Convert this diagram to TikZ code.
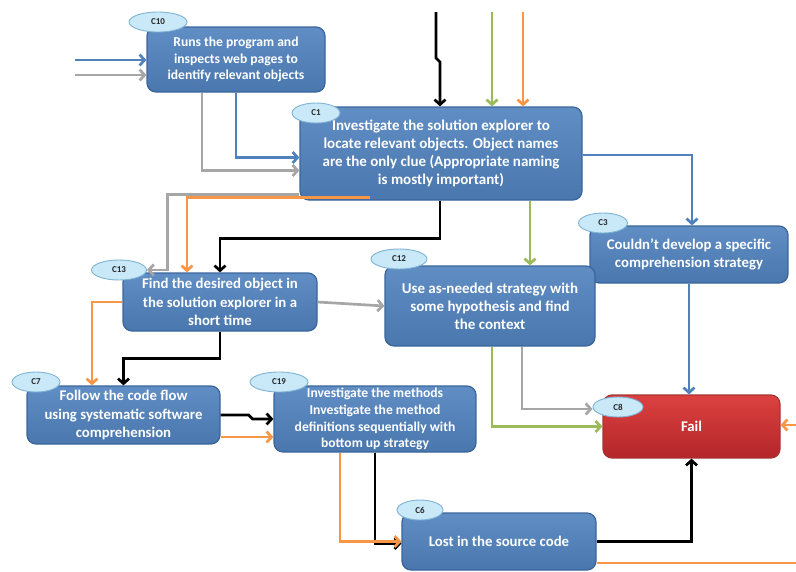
\documentclass[tikz,border=0pt]{standalone}
\usepackage{fontspec}
\setmainfont{Carlito}
\usetikzlibrary{arrows.meta,shapes.geometric}

\definecolor{boxblue}{HTML}{4F81BD}
\definecolor{boxedge}{HTML}{3A659B}
\definecolor{failtop}{HTML}{DC4140}
\definecolor{failbot}{HTML}{B3262A}
\definecolor{failedge}{HTML}{A83434}
\definecolor{tagfill}{HTML}{C9E8F8}
\definecolor{tagedge}{HTML}{7FB3D3}
\definecolor{lblue}{HTML}{4F81BD}
\definecolor{lgray}{HTML}{A6A6A6}
\definecolor{lorange}{HTML}{F79646}
\definecolor{lgreen}{HTML}{9BBB59}

\begin{document}
\begin{tikzpicture}[x=1pt,y=-1pt,
  box/.style={draw=boxedge,line width=1.2pt,top color=boxblue!90!white,bottom color=boxblue!92!black,
    rounded corners=9pt,text=white,align=center,inner sep=1pt},
  failbox/.style={box,draw=failedge,top color=failtop,bottom color=failbot},
  big/.style={font=\bfseries\fontsize{15}{18}\selectfont},
  mid/.style={font=\bfseries\fontsize{14.8}{18.3}\selectfont},
  small/.style={font=\bfseries\fontsize{13.6}{16.8}\selectfont},
  tag/.style={ellipse,draw=tagedge,line width=0.9pt,fill=tagfill,text=black!85,
    font=\bfseries\fontsize{9}{10}\selectfont,inner sep=0pt,minimum height=20pt},
  link/.style={line width=2.7pt,-{Straight Barb[length=5pt,width=11pt]}},
  bl/.style={link,lblue}, gl/.style={link,lgray}, ol/.style={link,lorange},
  grl/.style={link,lgreen}, kl/.style={link,black}]
\useasboundingbox (0,0) rectangle (796,571);

% boxes
\node[box,small,minimum width=178pt,minimum height=65pt] (c10) at (236,59.5)
  {Runs the program and\\inspects web pages to\\identify relevant objects};
\node[box,big,minimum width=282pt,minimum height=93pt] (c1) at (441,153.5)
  {Investigate the solution explorer to\\locate relevant objects. Object names\\are the only clue (Appropriate naming\\is mostly important)};
\node[box,mid,minimum width=198pt,minimum height=57pt] (c3) at (689,254.5)
  {Couldn't develop a specific\\comprehension strategy};
\node[box,mid,minimum width=194pt,minimum height=58pt] (c13) at (220,302)
  {Find the desired object in\\the solution explorer in a\\short time};
\node[box,big,minimum width=210pt,minimum height=80pt] (c12) at (490,306)
  {Use as-needed strategy with\\some hypothesis and find\\the context};
\node[box,mid,minimum width=193pt,minimum height=58pt] (c7) at (123.5,415)
  {Follow the code flow\\using systematic software\\comprehension};
\node[box,small,minimum width=202pt,minimum height=66pt] (c19) at (375,419)
  {Investigate the methods\\Investigate the method\\definitions sequentially with\\bottom up strategy};
\node[failbox,mid,minimum width=177pt,minimum height=63pt] (c8) at (691.5,426.5) {Fail};
\node[box,mid,minimum width=194pt,minimum height=57pt] (c6) at (499,541.5)
  {Lost in the source code};

% tags
\node[tag,minimum width=58pt] (t10) at (158,22) {C10};
\node[tag,minimum width=48pt] (t1) at (316,113) {C1};
\node[tag,minimum width=49pt] (t3) at (603,223) {C3};
\node[tag,minimum width=55pt] (t13) at (119,270) {C13};
\node[tag,minimum width=56pt] (t12) at (399,259) {C12};
\node[tag,minimum width=48pt] (t7) at (36,382) {C7};
\node[tag,minimum width=58pt] (t19) at (279,382) {C19};
\node[tag,minimum width=50pt] (t8) at (618,407) {C8};
\node[tag,minimum width=46pt] (t6) at (420,510) {C6};

% free ends
\coordinate (in1) at (75,60);
\coordinate (in2) at (75,75);
\coordinate (topk) at (436,12);
\coordinate (topg) at (492,12);
\coordinate (topo) at (523,12);
\coordinate (ro) at (796,425);
\coordinate (ro2) at (796,563);

% connectors
\draw[bl] (in1) -- (in1 -| c10.west);
\draw[gl] (in2) -- (in2 -| c10.west);
\draw[kl] (topk) -- ++(0,46) -- ++(4,4) coordinate (kb) -- (kb |- c1.north);
\draw[grl] (topg) -- (topg |- c1.north);
\draw[ol] (topo) -- (topo |- c1.north);
\draw[bl] (c10.south) |- ([yshift=-4pt]c1.west);
\draw[gl] ([xshift=-34pt]c10.south) |- ([yshift=-17pt]c1.west);
\draw[gl] ([yshift=-41pt]c1.west) -- ++(-132,0) |- (t13.east);
\draw[ol] ([xshift=-71pt,yshift=3pt]c1.south) -| ([xshift=-33pt]c13.north);
\draw[kl] ([xshift=-1pt]c1.south) -- ++(0,38) -| (c13.north);
\draw[grl] ([xshift=89pt]c1.south) -- ([xshift=40pt]c12.north);
\draw[bl] ([yshift=-1.5pt]c1.east) -| ([xshift=3pt]c3.north);
\draw[gl] (c13.east) -- (c12.west);
\draw[ol] (c13.west) -| ([xshift=-31.5pt]c7.north);
\draw[kl] (c13.south) -- ++(0,27) -| (c7.north);
\draw[kl] (c7.east) -- ++(28,0) -- ++(4,4) coordinate (kj) -- (kj -| c19.west);
\draw[ol] ([yshift=-22pt]c7.east) coordinate (oa) -- (oa -| c19.west);
\draw[kl] (c19.south) |- ([yshift=-2pt]c6.west);
\draw[ol] ([xshift=-35pt]c19.south) |- (c6.west);
\draw[grl] ([xshift=2pt]c12.south) |- (c8.west);
\draw[gl] ([xshift=32pt]c12.south) |- ([yshift=-2pt]t8.west);
\draw[bl] (c3.south) -- (c3.south |- c8.north);
\draw[ol] (ro) -- (ro -| c8.east);
\draw[kl] (c6.east) -| (c8.south);
\draw[lorange,line width=2.7pt] (ro2 -| c6.east) -- (ro2);
\end{tikzpicture}
\end{document}
